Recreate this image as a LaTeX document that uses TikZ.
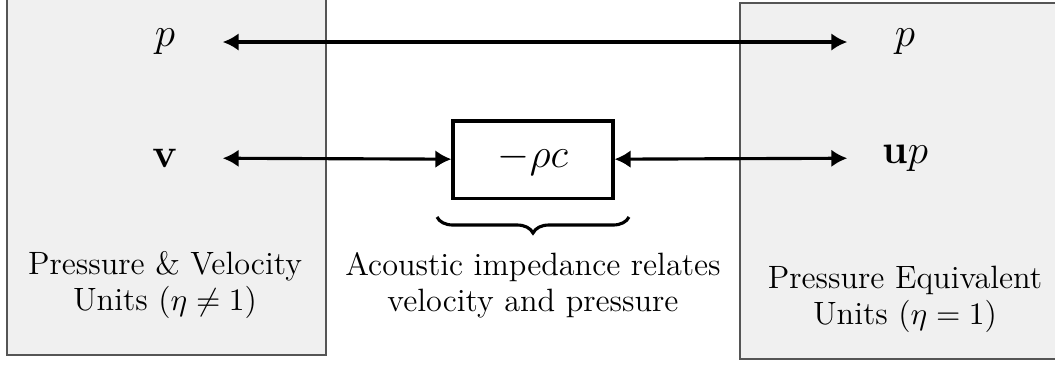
\documentclass[tikz,border=0pt]{standalone}
\usetikzlibrary{arrows.meta,decorations.pathreplacing}
\definecolor{panelgray}{HTML}{F0F0F0}
\definecolor{edgegray}{HTML}{555555}
\begin{document}
\begin{tikzpicture}[x=0.35pt,y=-0.35pt,
  panel/.style={draw=edgegray,fill=panelgray,line width=0.6pt},
  sym/.style={font=\fontsize{15.2}{18}\selectfont,minimum width=40pt,inner sep=0pt},
  link/.style={line width=1.1pt,{Latex[length=5.6pt,width=6.2pt]}-{Latex[length=5.6pt,width=6.2pt]}},
  impbox/.style={draw,line width=1.1pt,minimum width=56pt,minimum height=27pt,font=\fontsize{15.2}{18}\selectfont,inner sep=0pt},
  caption/.style={align=center,font=\fontsize{11.3}{12.6}\selectfont}]
\useasboundingbox (0,0) rectangle (1055,364);
\draw[panel] (7,-3) rectangle (326,355);
\draw[panel] (740,3) rectangle (1060,359);
\node[sym] (pL) at (165,42) {$p$};
\node[sym] (vL) at (165,158) {$\mathbf{v}$};
\node[sym] (pR) at (905,42) {$p$};
\node[sym] (upR) at (905,158) {$\mathbf{u}p$};
\node[impbox] (rc) at (533,159.5) {$-\rho c$};
\draw[link] (pL) -- (pR);
\draw[link] (vL) -- (rc);
\draw[link] (rc) -- (upR);
\coordinate (bl) at (437,217);
\coordinate (br) at (629,217);
\draw[line width=1.1pt,decorate,decoration={brace,mirror,amplitude=5.6pt}] (bl) -- (br);
\node[caption] (lblL) at (165,285) {Pressure \& Velocity\\Units ($\eta\neq 1$)};
\node[caption] (lblM) at (533,285) {Acoustic impedance relates\\velocity and pressure};
\node[caption] (lblR) at (905,299) {Pressure Equivalent\\Units ($\eta=1$)};
\end{tikzpicture}
\end{document}
